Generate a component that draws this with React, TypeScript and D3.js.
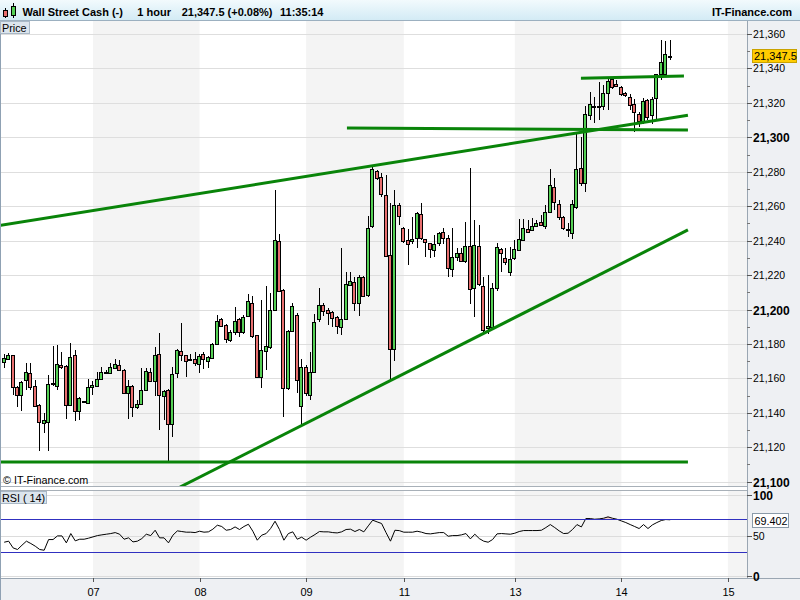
import React from 'react';
import * as d3 from 'd3';

// ---- Data (1-hour candles, index 0..150) ----
const opens = [
  21169.3, 21171.1, 21173.4, 21155.2, 21150.2, 21158.9, 21162.9, 21155.4, 21144.4, 21133.9,
  21134.5, 21157.0, 21155.8, 21167.6, 21167.0, 21144.7, 21173.4, 21140.9, 21146.7, 21145.5,
  21155.0, 21155.6, 21159.4, 21163.5, 21163.0, 21165.8, 21167.6, 21164.9, 21151.3, 21155.8,
  21143.6, 21145.3, 21153.3, 21163.5, 21158.3, 21174.2, 21149.8, 21153.3, 21133.3, 21163.0,
  21175.9, 21173.4, 21171.0, 21171.1, 21168.3, 21174.0, 21170.3, 21171.6, 21179.8, 21194.3,
  21191.0, 21182.3, 21186.7, 21194.3, 21186.7, 21196.2, 21203.6, 21185.0, 21160.6, 21175.9,
  21178.0, 21199.7, 21239.8, 21211.1, 21154.6, 21187.7, 21196.6, 21143.9, 21166.8, 21150.4,
  21163.5, 21194.3, 21202.4, 21199.7, 21198.4, 21195.5, 21190.0, 21194.3, 21214.2, 21215.8,
  21203.6, 21219.1, 21208.2, 21248.5, 21280.4, 21277.1, 21266.5, 21231.5, 21176.9, 21260.7,
  21247.1, 21240.4, 21239.6, 21241.3, 21255.3, 21240.8, 21238.4, 21234.6, 21238.4, 21244.8,
  21241.3, 21223.3, 21230.3, 21232.6, 21228.4, 21237.1, 21212.3, 21237.1, 21213.8, 21189.1,
  21190.0, 21212.7, 21235.3, 21229.7, 21221.6, 21229.7, 21234.5, 21240.4, 21246.6, 21246.2,
  21248.5, 21250.8, 21248.5, 21256.4, 21270.9, 21261.1, 21253.9, 21246.7, 21244.6, 21259.7,
  21282.0, 21273.3, 21312.9, 21318.4, 21318.2, 21318.2, 21325.9, 21333.7, 21330.8, 21329.4,
  21325.5, 21323.2, 21319.1, 21313.5, 21309.7, 21321.7, 21312.8, 21322.6, 21336.6, 21336.6,
  21347.4,
];
const highs = [
  21174.2, 21175.0, 21173.8, 21155.6, 21158.2, 21168.7, 21168.7, 21159.0, 21145.0, 21139.7,
  21162.0, 21178.8, 21179.6, 21175.5, 21167.5, 21180.7, 21176.5, 21149.0, 21147.0, 21159.4,
  21158.7, 21163.9, 21166.8, 21165.0, 21168.7, 21171.2, 21170.7, 21165.2, 21159.1, 21156.2,
  21147.4, 21165.8, 21165.8, 21165.8, 21178.4, 21186.2, 21153.0, 21153.6, 21166.4, 21177.0,
  21192.0, 21173.8, 21174.0, 21175.5, 21174.0, 21175.5, 21173.0, 21180.7, 21196.8, 21195.0,
  21191.5, 21188.0, 21201.6, 21194.8, 21196.6, 21209.0, 21208.0, 21185.4, 21205.5, 21213.6,
  21209.4, 21269.4, 21243.7, 21212.0, 21188.0, 21204.0, 21198.0, 21171.0, 21168.0, 21175.5,
  21197.2, 21212.7, 21204.0, 21201.0, 21199.0, 21196.0, 21235.5, 21222.0, 21222.0, 21219.0,
  21220.0, 21219.5, 21254.3, 21284.0, 21281.0, 21279.0, 21278.1, 21261.7, 21269.4, 21262.0,
  21248.0, 21247.0, 21253.9, 21256.8, 21262.1, 21241.2, 21238.8, 21243.3, 21245.2, 21247.1,
  21243.0, 21247.1, 21236.0, 21236.0, 21251.0, 21282.0, 21252.0, 21249.0, 21219.0, 21220.0,
  21215.2, 21238.4, 21236.0, 21235.5, 21236.5, 21240.4, 21252.4, 21252.4, 21252.0, 21253.0,
  21252.0, 21255.0, 21260.7, 21281.4, 21276.2, 21263.6, 21254.5, 21250.0, 21263.6, 21302.3,
  21300.4, 21318.2, 21326.5, 21323.6, 21332.3, 21330.4, 21334.0, 21335.0, 21333.0, 21330.0,
  21326.5, 21325.0, 21322.0, 21314.5, 21322.6, 21322.5, 21323.5, 21337.0, 21356.5, 21356.0,
  21356.5,
];
const lows = [
  21165.8, 21170.5, 21150.3, 21143.6, 21141.3, 21153.3, 21153.3, 21143.5, 21118.0, 21128.1,
  21118.0, 21155.5, 21153.3, 21165.5, 21136.2, 21144.0, 21135.0, 21135.8, 21146.3, 21145.0,
  21150.3, 21155.0, 21159.0, 21163.0, 21162.5, 21165.5, 21164.5, 21151.0, 21136.2, 21137.8,
  21142.0, 21145.0, 21153.0, 21158.0, 21150.0, 21130.0, 21136.0, 21111.6, 21126.0, 21160.0,
  21170.0, 21161.0, 21170.0, 21167.0, 21163.3, 21165.3, 21165.8, 21171.0, 21179.5, 21190.0,
  21180.4, 21181.0, 21185.0, 21184.2, 21186.0, 21196.0, 21183.3, 21160.4, 21154.2, 21164.9,
  21177.0, 21199.0, 21210.0, 21137.8, 21153.0, 21187.0, 21151.3, 21133.0, 21149.8, 21147.5,
  21163.0, 21193.0, 21196.0, 21191.0, 21190.0, 21185.8, 21185.2, 21194.0, 21213.5, 21199.3,
  21196.4, 21207.0, 21207.5, 21247.5, 21275.5, 21265.5, 21230.5, 21157.9, 21170.0, 21249.1,
  21238.4, 21225.8, 21238.0, 21235.5, 21240.5, 21230.3, 21229.7, 21230.3, 21237.0, 21238.0,
  21219.1, 21219.1, 21228.0, 21227.5, 21227.0, 21203.2, 21195.8, 21213.5, 21187.0, 21186.0,
  21189.0, 21211.0, 21222.0, 21226.0, 21219.5, 21229.0, 21234.0, 21240.0, 21244.5, 21245.5,
  21248.0, 21248.5, 21247.0, 21256.0, 21257.8, 21252.0, 21246.2, 21242.3, 21241.0, 21258.5,
  21272.0, 21268.4, 21310.0, 21308.5, 21310.0, 21316.0, 21315.8, 21328.0, 21329.0, 21324.0,
  21323.5, 21316.0, 21303.3, 21306.0, 21308.0, 21310.0, 21308.0, 21310.0, 21333.0, 21335.0,
  21344.9,
];
const closes = [
  21171.6, 21173.8, 21154.8, 21150.2, 21157.7, 21163.5, 21155.2, 21143.8, 21134.5, 21135.6,
  21156.5, 21157.4, 21168.2, 21166.4, 21144.4, 21172.2, 21140.9, 21148.4, 21146.8, 21155.2,
  21156.0, 21159.4, 21163.5, 21163.8, 21166.4, 21168.2, 21164.9, 21151.3, 21155.8, 21143.6,
  21145.1, 21153.3, 21164.3, 21158.3, 21173.4, 21150.2, 21152.5, 21133.3, 21162.3, 21176.5,
  21173.6, 21170.1, 21171.2, 21168.7, 21173.2, 21171.1, 21172.2, 21179.8, 21193.5, 21190.4,
  21182.7, 21186.9, 21193.5, 21187.1, 21195.5, 21204.7, 21184.6, 21161.0, 21176.5, 21178.6,
  21199.9, 21240.4, 21210.7, 21154.2, 21187.7, 21202.0, 21159.0, 21166.4, 21151.3, 21163.5,
  21192.9, 21202.8, 21198.9, 21197.8, 21195.1, 21190.4, 21194.3, 21214.8, 21216.4, 21203.6,
  21218.7, 21207.8, 21247.1, 21281.4, 21276.2, 21267.1, 21231.1, 21176.9, 21260.7, 21254.3,
  21239.8, 21238.0, 21240.8, 21255.9, 21241.3, 21239.0, 21234.9, 21237.8, 21244.6, 21241.3,
  21223.9, 21230.7, 21233.0, 21228.2, 21237.1, 21211.7, 21237.5, 21214.6, 21188.1, 21190.6,
  21212.7, 21236.1, 21232.6, 21227.4, 21229.1, 21234.9, 21240.8, 21247.1, 21245.2, 21248.5,
  21250.0, 21249.1, 21256.4, 21272.3, 21262.2, 21253.5, 21247.1, 21246.5, 21261.3, 21281.4,
  21273.3, 21313.5, 21319.1, 21317.4, 21318.4, 21325.9, 21332.9, 21329.0, 21329.8, 21325.0,
  21324.6, 21318.8, 21314.5, 21309.3, 21321.1, 21312.0, 21322.4, 21336.6, 21343.5, 21348.2,
  21347.5,
];
const rsiValues = [
  41.7, 43, 34.7, 32.7, 38, 43, 40.1, 36.8, 32.7, 31.8,
  45, 45, 49.5, 49.5, 40.9, 52.4, 43.4, 45.4, 45.4, 46.7,
  48.3, 49.9, 50.8, 51.6, 52.4, 53.6, 51.6, 45.4, 47.1, 42.1,
  43, 46.2, 51.6, 49.9, 56.5, 47.1, 47.1, 40.9, 50.4, 55.7,
  54.9, 54.1, 54.1, 53.6, 55.3, 54.1, 54.5, 57.8, 62.7, 61.1,
  56.5, 57.4, 60.6, 57.4, 61.1, 63.9, 55.3, 44.2, 50.4, 52.4,
  58.6, 67.6, 57.4, 44.2, 52.4, 54.5, 45.4, 47.9, 44.2, 47.9,
  51.2, 54.9, 54.5, 54.5, 53.6, 53.2, 54.5, 57.4, 57.8, 54.9,
  57.4, 54.5, 61.9, 68.9, 66.8, 64.8, 53.6, 43, 56.5, 56,
  54.1, 54.1, 54.1, 55.3, 54.1, 52.4, 52, 52.8, 53.6, 53.6,
  49.1, 49.9, 49.9, 50.8, 52.4, 45.8, 51.6, 46.2, 43, 41.7,
  45, 52, 52.4, 52, 51.6, 52.8, 54.9, 56.1, 56.1, 56.1,
  56.1, 56.5, 59.8, 63.5, 59.8, 55.7, 52.4, 52.8, 57.4, 63.5,
  60.6, 70.9, 70.9, 70.1, 70.5, 71.3, 73, 71.3, 70.1, 68,
  66, 63.5, 61.1, 58.6, 63.5, 58.6, 63.1, 66, 68.5, 69.7,
  69.4,
];
const dayLabels = ['07', '08', '09', '11', '13', '14', '15'];
const dayIndex = [20, 44, 68, 90, 115, 139, 163];
const priceTicks = [21100, 21120, 21140, 21160, 21180, 21200, 21220, 21240, 21260, 21280, 21300, 21320, 21340, 21360];
const boldPriceTicks = [21100, 21200, 21300];
const minorPriceTicks = [21110, 21130, 21150, 21170, 21190, 21210, 21230, 21250, 21270, 21290, 21310, 21330, 21350];
const rsiTicks = [0, 50, 100];
const rsiBands = [30, 70];
// trend lines: [startIndex, startPrice, endIndex, endPrice]
const trendStarts = [[-1, 21111.5], [-1, 21248.8], [39.6, 21096.9], [77.2, 21305.4], [129.9, 21334.3]];
const trendEnds = [[154, 21111.5], [154, 21312.8], [154, 21246.2], [154, 21304.2], [153.1, 21335.6]];
const lastPrice = 21347.5;
const lastRsi = 69.402;

const FONT = '"Liberation Sans", Arial, sans-serif';

export default function App() {
  const plotL = 1;
  const plotR = 747;
  const priceTop = 20;
  const priceBottom = 487;
  const rsiTop = 490.5;
  const rsiBottom = 578;

  const x = d3.scaleLinear().domain([0, 163]).range([4.2, 727.9]);
  const y = d3.scaleLinear().domain([21100, 21360]).range([481.7, 34]);
  const ry = d3.scaleLinear().domain([0, 100]).range([576, 495]);

  const bandEdges = dayIndex.map((d) => x(d));
  const grayBands: [number, number][] = [];
  for (let k = 0; k < bandEdges.length; k += 2) {
    grayBands.push([bandEdges[k], k + 1 < bandEdges.length ? bandEdges[k + 1] : plotR]);
  }

  const rsiLine = d3.line<number>().x((_, i) => x(i)).y((v) => ry(v))(rsiValues) || '';
  const rsiOver = d3
    .area<number>()
    .x((_, i) => x(i))
    .y0(() => ry(70))
    .y1((v) => ry(v))(rsiValues) || '';
  const y70 = Math.round(ry(70)) + 0.5;

  const candles = opens.map((o, i) => {
    const c = closes[i];
    const xc = Math.floor(x(i));
    const top = Math.round(y(Math.max(o, c)));
    const bot = Math.round(y(Math.min(o, c)));
    return {
      i,
      up: c >= o,
      bx: xc - 1.5,
      wx: xc + 0.5,
      top: top + 0.5,
      h: Math.max(bot - top, 0),
      hy: y(highs[i]),
      ly: y(lows[i]),
    };
  });

  return (
    <svg
      width={800}
      height={600}
      viewBox="0 0 800 600"
      style={{ position: 'absolute', left: 0, top: 0, background: '#fff' }}
      fontFamily={FONT}
    >
      <defs>
        <linearGradient id="hdr" x1="0" y1="0" x2="0" y2="1">
          <stop offset="0" stopColor="#f2fafd" />
          <stop offset="1" stopColor="#d3ebf5" />
        </linearGradient>
        <clipPath id="priceClip">
          <rect x={plotL} y={priceTop} width={plotR - plotL} height={priceBottom - priceTop} />
        </clipPath>
        <clipPath id="rsiClip">
          <rect x={plotL} y={rsiTop} width={plotR - plotL} height={rsiBottom - rsiTop} />
        </clipPath>
        <clipPath id="rsiOverClip">
          <rect x={plotL} y={rsiTop} width={plotR - plotL} height={y70 - 1 - rsiTop} />
        </clipPath>
      </defs>

      {/* background */}
      <rect x={0} y={0} width={800} height={600} fill="#ffffff" />
      {/* axis backgrounds */}
      <rect x={plotR} y={20} width={800 - plotR} height={580} fill="#eef0f3" />
      <rect x={0} y={rsiBottom} width={800} height={600 - rsiBottom} fill="#eef0f3" />

      {/* day bands */}
      {grayBands.map(([a, b], k) => (
        <g key={'gb' + k}>
          <rect x={a} y={priceTop} width={b - a} height={priceBottom - priceTop} fill="#f4f4f4" />
          <rect x={a} y={rsiTop} width={b - a} height={rsiBottom - rsiTop} fill="#f4f4f4" />
        </g>
      ))}

      {/* price gridlines */}
      {priceTicks.map((p) => (
        <line key={'g' + p} x1={plotL} x2={plotR} y1={Math.round(y(p)) + 0.5} y2={Math.round(y(p)) + 0.5} stroke="#dedede" strokeWidth={1} />
      ))}

      {/* candles */}
      <g clipPath="url(#priceClip)" shapeRendering="crispEdges">
        {candles.map((c) => (
          <g key={'c' + c.i}>
            <line x1={c.wx} x2={c.wx} y1={c.hy} y2={c.ly} stroke="#000" strokeWidth={1} />
            <rect x={c.bx} y={c.top} width={3} height={Math.max(c.h, 0.5)} fill={c.up ? '#55d055' : '#e86f6f'} stroke="#000" strokeWidth={1} />
          </g>
        ))}
      </g>

      {/* trend lines */}
      <g clipPath="url(#priceClip)">
        {trendStarts.map((s, k) => (
          <line key={'t' + k} x1={x(s[0])} y1={y(s[1])} x2={x(trendEnds[k][0])} y2={y(trendEnds[k][1])} stroke="#098409" strokeWidth={3} />
        ))}
      </g>

      {/* price panel borders */}
      <line x1={0} x2={plotR} y1={priceBottom - 0.5} y2={priceBottom - 0.5} stroke="#a8b0b8" />
      <line x1={plotR + 0.5} x2={plotR + 0.5} y1={20} y2={rsiBottom} stroke="#9aa6b2" />

      {/* price axis */}
      {priceTicks.map((p) => {
        const yy = Math.round(y(p)) + 0.5;
        const bold = boldPriceTicks.includes(p);
        return (
          <g key={'pt' + p}>
            <line x1={plotR} x2={plotR + 5} y1={yy} y2={yy} stroke="#555" />
            <text x={plotR + 6} y={yy + (bold ? 4.5 : 3.8)} fontSize={bold ? 12 : 10.5} fontWeight={bold ? 'bold' : 'normal'} fill="#000">
              {d3.format(',')(p)}
            </text>
          </g>
        );
      })}
      {minorPriceTicks.map((p) => (
        <line key={'mt' + p} x1={plotR} x2={plotR + 3} y1={Math.round(y(p)) + 0.5} y2={Math.round(y(p)) + 0.5} stroke="#777" />
      ))}
      {/* last price box */}
      <rect x={752.5} y={Math.round(y(lastPrice)) - 6.5} width={44} height={13} fill="#ffcc00" stroke="#c9a200" />
      <text x={754} y={Math.round(y(lastPrice)) + 4} fontSize={11} fill="#000">
        {d3.format(',.1f')(lastPrice)}
      </text>

      {/* copyright */}
      <text x={3} y={484} fontSize={10.8} fill="#000">© IT-Finance.com</text>

      {/* RSI panel */}
      {rsiTicks.map((t) => (
        <line key={'rg' + t} x1={plotL} x2={plotR} y1={Math.round(ry(t)) + 0.5} y2={Math.round(ry(t)) + 0.5} stroke="#dcdcdc" />
      ))}
      <g clipPath="url(#rsiOverClip)">
        <path d={rsiOver} fill="#e88080" fillOpacity={0.6} />
      </g>
      <g clipPath="url(#rsiClip)">
        <path d={rsiLine} fill="none" stroke="#000" strokeWidth={1} />
      </g>
      <g shapeRendering="crispEdges">
        {rsiBands.map((t) => (
          <rect key={'rb' + t} x={plotL} width={plotR - plotL} y={Math.round(ry(t))} height={1} fill="#3030c0" />
        ))}
      </g>
      <line x1={0} x2={plotR} y1={rsiTop} y2={rsiTop} stroke="#a8b0b8" />
      <line x1={0} x2={800} y1={rsiBottom + 0.5} y2={rsiBottom + 0.5} stroke="#9aa6b2" />
      {rsiTicks.map((t) => {
        const yy = Math.round(ry(t)) + 0.5;
        const bold = t !== 50;
        return (
          <g key={'rt' + t}>
            <line x1={plotR} x2={plotR + 5} y1={yy} y2={yy} stroke="#555" />
            <text x={plotR + 6} y={yy + (bold ? 4.5 : 3.8)} fontSize={bold ? 12 : 10.5} fontWeight={bold ? 'bold' : 'normal'} fill="#000">
              {t}
            </text>
          </g>
        );
      })}
      <rect x={752.5} y={Math.round(ry(lastRsi)) - 6.5} width={36} height={14} fill="#fff" stroke="#8a9aa8" />
      <text x={754.5} y={Math.round(ry(lastRsi)) + 4.5} fontSize={10.8} fill="#000">
        {d3.format('.3f')(lastRsi)}
      </text>

      {/* RSI label */}
      <rect x={0.5} y={491.5} width={46} height={12} fill="#dce5ed" stroke="#a9b8c6" />
      <text x={2} y={501.5} fontSize={10.8} fill="#000">RSI ( 14)</text>

      {/* x axis */}
      {dayLabels.map((lab, k) => {
        const xx = Math.round(x(dayIndex[k])) + 0.5;
        return (
          <g key={'xl' + k}>
            <line x1={xx} x2={xx} y1={rsiBottom} y2={rsiBottom + 4} stroke="#555" />
            <text x={xx} y={596} fontSize={11} textAnchor="middle" fill="#000">
              {lab}
            </text>
          </g>
        );
      })}

      {/* left border */}
      <line x1={0.5} x2={0.5} y1={20} y2={600} stroke="#8fa1b3" />

      {/* header */}
      <rect x={0} y={0} width={800} height={20} fill="url(#hdr)" />
      <line x1={0} x2={800} y1={20.5} y2={20.5} stroke="#9cb0c0" />
      <g shapeRendering="crispEdges">
        <line x1={5.5} x2={5.5} y1={8} y2={18} stroke="#000" />
        <rect x={3.5} y={10.5} width={4} height={6} fill="#e86f6f" stroke="#000" />
        <line x1={13.5} x2={13.5} y1={3} y2={18} stroke="#000" />
        <rect x={11.5} y={6.5} width={4} height={9} fill="#55d055" stroke="#000" />
      </g>
      <g fontSize={11} fontWeight="bold" fill="#000">
        <text x={22.5} y={15.5}>Wall Street Cash (-)</text>
        <text x={137.3} y={15.5}>1 hour</text>
        <text x={181.7} y={15.5}>21,347.5 (+0.08%)</text>
        <text x={280} y={15.5}>11:35:14</text>
        <text x={792} y={15.5} textAnchor="end">IT-Finance.com</text>
      </g>

      {/* Price label */}
      <rect x={0.5} y={21.5} width={29} height={12} fill="#dce5ed" stroke="#a9b8c6" />
      <text x={2} y={31.5} fontSize={10.8} fill="#000">Price</text>
    </svg>
  );
}
